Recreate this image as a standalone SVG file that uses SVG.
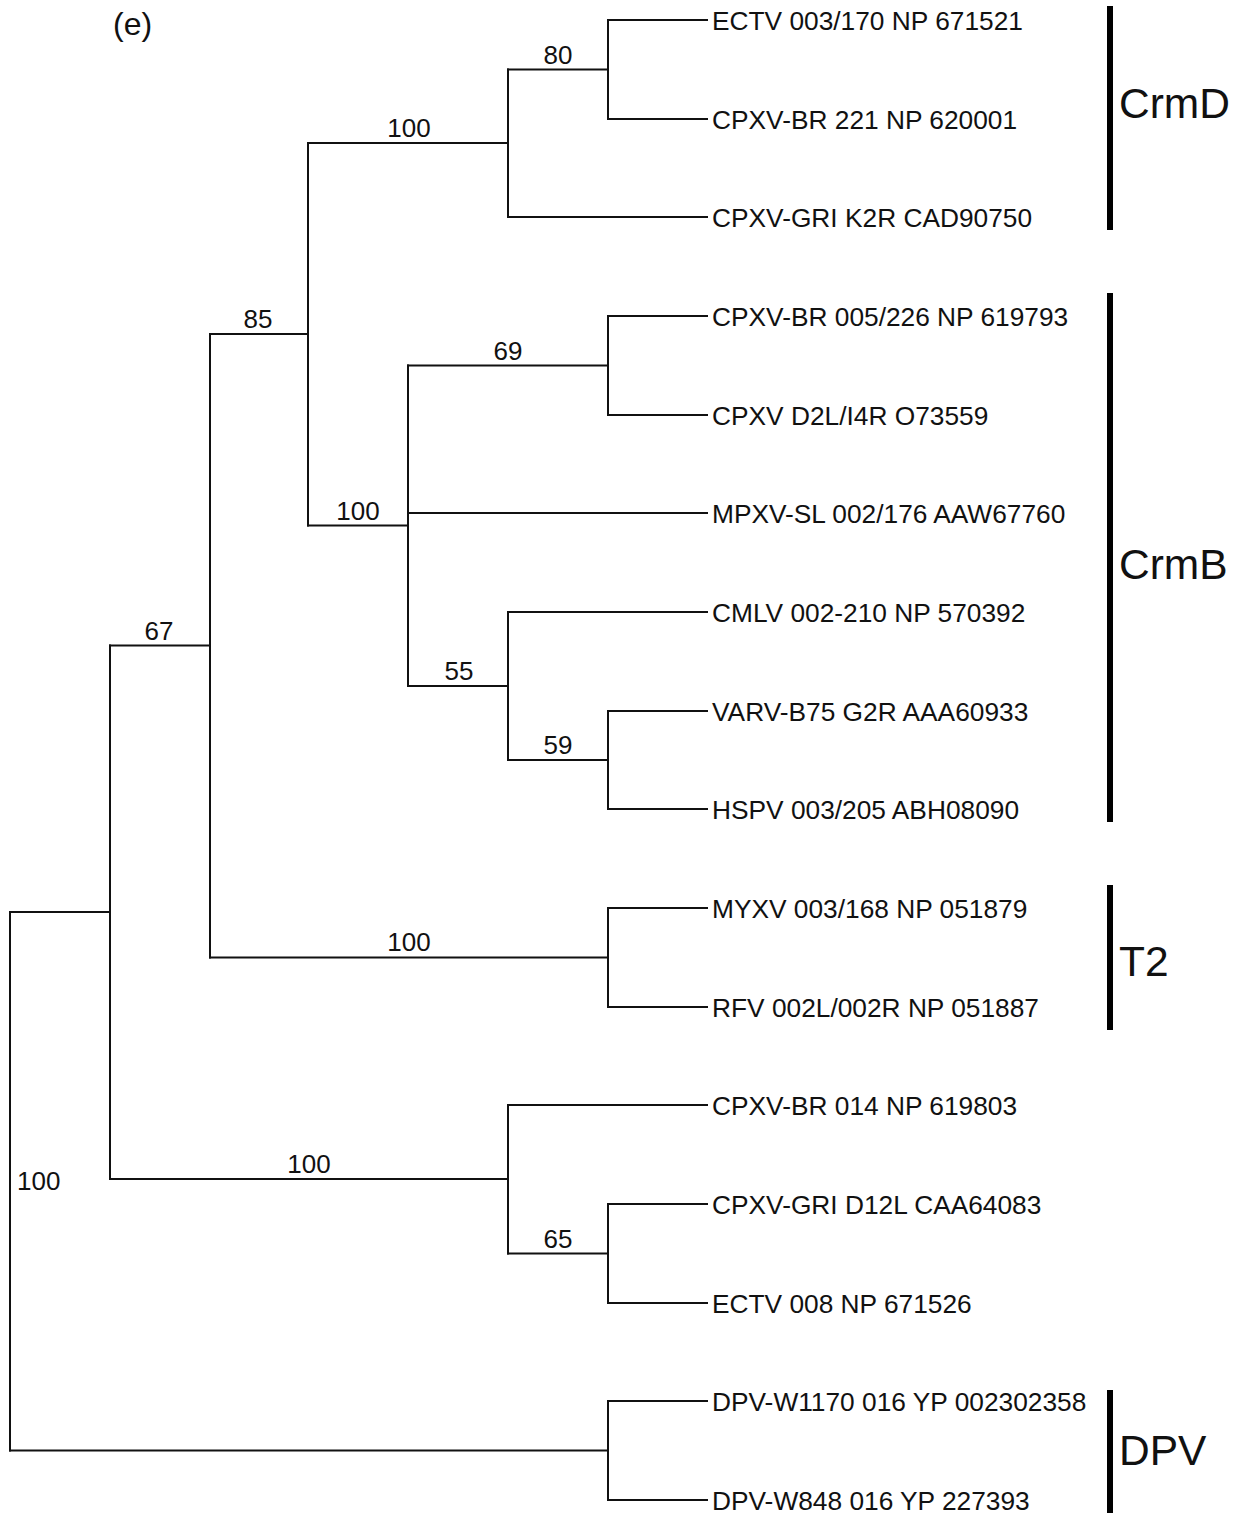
<svg xmlns="http://www.w3.org/2000/svg" width="1244" height="1513" viewBox="0 0 1244 1513">
<style>
  .br { fill: none; stroke: #111; stroke-width: 2; stroke-linecap: square; }
  .bar { stroke: #000; stroke-width: 6; }
  .leaf { font-family: "Liberation Sans", Arial, sans-serif; font-size: 26.3px; fill: #111; }
  .bs { font-family: "Liberation Sans", Arial, sans-serif; font-size: 26px; fill: #111; text-anchor: middle; }
  .bs-left { font-family: "Liberation Sans", Arial, sans-serif; font-size: 26px; fill: #111; text-anchor: start; }
  .clade { font-family: "Liberation Sans", Arial, sans-serif; font-size: 42.5px; fill: #111; }
</style>
<rect width="1244" height="1513" fill="#fff"/>
<text id="panel-label" x="113" y="35" font-family="Liberation Sans, Arial, sans-serif" font-size="32" fill="#111">(e)</text>

<g id="connectors">
  <!-- verticals of internal nodes -->
  <path class="br" d="M608,20 V119 M508,69.5 V217 M608,316 V415 M608,711 V809 M508,612 V760 M408,365.5 V686 M308,143 V525.5 M608,908 V1007 M210,334 V957.5 M608,1204 V1303 M508,1105 V1253.5 M110,645.5 V1179 M608,1401 V1500 M10,912 V1450.5"/>
  <!-- leaf branches -->
  <path class="br" d="M608,20 H707 M608,119 H707 M508,217 H707 M608,316 H707 M608,415 H707 M408,513 H707 M508,612 H707 M608,711 H707 M608,809 H707 M608,908 H707 M608,1007 H707 M508,1105 H707 M608,1204 H707 M608,1303 H707 M608,1401 H707 M608,1500 H707"/>
  <!-- internal branches -->
  <path class="br" d="M508,69.5 H608 M308,143 H508 M408,365.5 H608 M508,760 H608 M408,686 H508 M308,525.5 H408 M210,334 H308 M210,957.5 H608 M110,645.5 H210 M508,1253.5 H608 M110,1179 H508 M10,912 H110 M10,1450.5 H608"/>
</g>

<g id="bootstrap">
  <text class="bs" x="558" y="64">80</text>
  <text class="bs" x="409" y="137">100</text>
  <text class="bs" x="508" y="360">69</text>
  <text class="bs" x="459" y="680">55</text>
  <text class="bs" x="558" y="754">59</text>
  <text class="bs" x="358" y="520">100</text>
  <text class="bs" x="258" y="328">85</text>
  <text class="bs" x="409" y="951">100</text>
  <text class="bs" x="159" y="640">67</text>
  <text class="bs" x="558" y="1248">65</text>
  <text class="bs" x="309" y="1173">100</text>
  <text class="bs-left" x="17" y="1190">100</text>
</g>

<g id="leaf-ECTV-003"><text class="leaf" x="712" y="30">ECTV 003/170 NP 671521</text></g>
<g id="leaf-CPXV-BR-221"><text class="leaf" x="712" y="128.5">CPXV-BR 221 NP 620001</text></g>
<g id="leaf-CPXV-GRI-K2R"><text class="leaf" x="712" y="226.5">CPXV-GRI K2R CAD90750</text></g>
<g id="leaf-CPXV-BR-005"><text class="leaf" x="712" y="325.5">CPXV-BR 005/226 NP 619793</text></g>
<g id="leaf-CPXV-D2L"><text class="leaf" x="712" y="424.5">CPXV D2L/I4R O73559</text></g>
<g id="leaf-MPXV-SL"><text class="leaf" x="712" y="522.5">MPXV-SL 002/176 AAW67760</text></g>
<g id="leaf-CMLV"><text class="leaf" x="712" y="621.5">CMLV 002-210 NP 570392</text></g>
<g id="leaf-VARV"><text class="leaf" x="712" y="720.5">VARV-B75 G2R AAA60933</text></g>
<g id="leaf-HSPV"><text class="leaf" x="712" y="818.5">HSPV 003/205 ABH08090</text></g>
<g id="leaf-MYXV"><text class="leaf" x="712" y="917.5">MYXV 003/168 NP 051879</text></g>
<g id="leaf-RFV"><text class="leaf" x="712" y="1016.5">RFV 002L/002R NP 051887</text></g>
<g id="leaf-CPXV-BR-014"><text class="leaf" x="712" y="1114.5">CPXV-BR 014 NP 619803</text></g>
<g id="leaf-CPXV-GRI-D12L"><text class="leaf" x="712" y="1213.5">CPXV-GRI D12L CAA64083</text></g>
<g id="leaf-ECTV-008"><text class="leaf" x="712" y="1312.5">ECTV 008 NP 671526</text></g>
<g id="leaf-DPV-W1170"><text class="leaf" x="712" y="1410.5">DPV-W1170 016 YP 002302358</text></g>
<g id="leaf-DPV-W848"><text class="leaf" x="712" y="1509.5">DPV-W848 016 YP 227393</text></g>

<g id="clade-CrmD"><line class="bar" x1="1110" y1="6" x2="1110" y2="230"/><text class="clade" x="1119" y="118">CrmD</text></g>
<g id="clade-CrmB"><line class="bar" x1="1110" y1="293" x2="1110" y2="822"/><text class="clade" x="1119" y="579">CrmB</text></g>
<g id="clade-T2"><line class="bar" x1="1110" y1="885" x2="1110" y2="1030"/><text class="clade" x="1119" y="976">T2</text></g>
<g id="clade-DPV"><line class="bar" x1="1110" y1="1390" x2="1110" y2="1513"/><text class="clade" x="1119" y="1465">DPV</text></g>
</svg>
